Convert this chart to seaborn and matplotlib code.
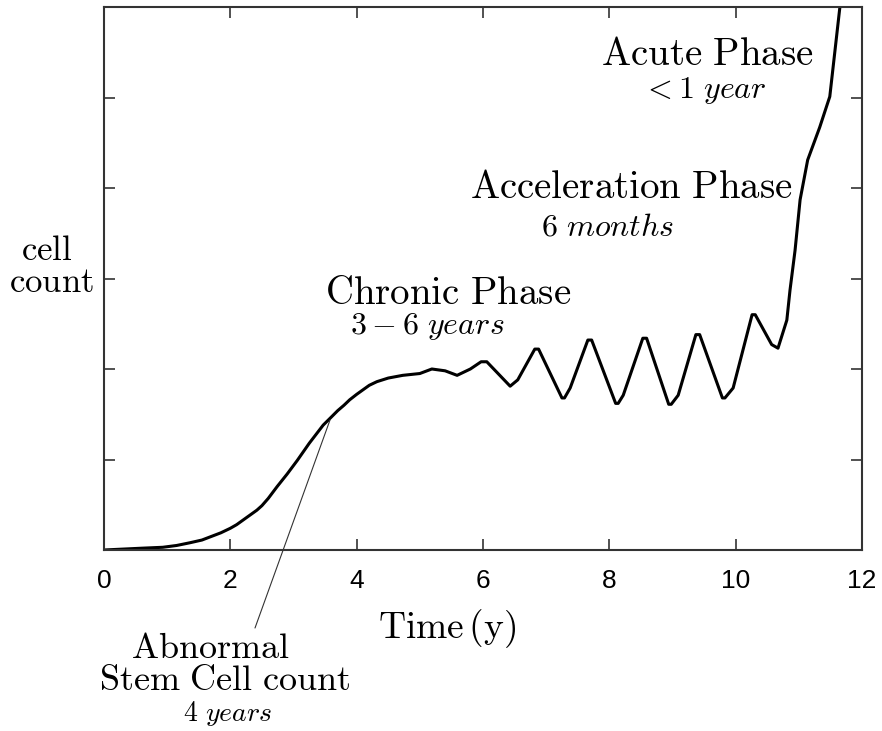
import matplotlib
matplotlib.use("Agg")
import matplotlib.pyplot as plt
import seaborn as sns
import pandas as pd

sns.set_theme(style="white")
plt.rcParams['font.family'] = ['Liberation Sans', 'DejaVu Sans']
plt.rcParams['mathtext.fontset'] = 'cm'

# Read values (time in years, cell count in arbitrary units)
time_y = [0.0, 0.3, 0.6, 0.93, 1.15, 1.36, 1.55, 1.7, 1.85, 2.0, 2.1, 2.2, 2.3, 2.42, 2.5,
          2.6, 2.74, 2.9, 3.06, 3.25, 3.47, 3.6, 3.7, 3.8, 3.89, 4.0, 4.1, 4.2, 4.32,
          4.5, 4.73, 5.0, 5.19, 5.4, 5.59, 5.8, 5.97, 6.06,
          6.43, 6.55, 6.82, 6.88, 7.25, 7.29, 7.38, 7.66, 7.72, 8.10, 8.14, 8.22,
          8.53, 8.59, 8.94, 8.98, 9.09, 9.37, 9.43, 9.79, 9.83, 9.96, 10.26, 10.31,
          10.57, 10.67, 10.81, 10.86, 10.94, 11.02, 11.14, 11.33, 11.49, 11.65]
cell_count = [0.0, 0.01, 0.02, 0.03, 0.05, 0.08, 0.11, 0.15, 0.19, 0.24, 0.28, 0.33, 0.38,
              0.44, 0.49, 0.57, 0.70, 0.84, 0.99, 1.18, 1.38, 1.47, 1.54, 1.60, 1.66,
              1.72, 1.77, 1.82, 1.86, 1.90, 1.93, 1.95, 2.0, 1.98, 1.93, 2.0, 2.08, 2.08,
              1.81, 1.88, 2.22, 2.22, 1.68, 1.68, 1.79, 2.32, 2.32, 1.62, 1.62, 1.71,
              2.34, 2.34, 1.61, 1.61, 1.71, 2.38, 2.38, 1.68, 1.68, 1.79, 2.60, 2.60,
              2.27, 2.23, 2.54, 2.87, 3.31, 3.87, 4.31, 4.67, 5.01, 6.0]
x_ticks = [0, 2, 4, 6, 8, 10, 12]
y_ticks = [1, 2, 3, 4, 5]

df = pd.DataFrame({"time": time_y, "count": cell_count})

fig = plt.figure(figsize=(8.82, 7.31), dpi=100)
ax = fig.add_axes([104/882, 1-550/731, 758/882, 543/731])
sns.lineplot(data=df, x="time", y="count", ax=ax, color="black", linewidth=2.2,
             sort=False)
ax.set_xlim(0, 12)
ax.set_ylim(0, 6)
ax.set_xticks(x_ticks)
ax.set_xticklabels([str(t) for t in x_ticks], fontsize=19)
ax.set_yticks(y_ticks)
ax.set_yticklabels([])
ax.tick_params(direction='in', length=8, width=1.2, top=True, right=True,
               bottom=True, left=True, colors='#333333', labelcolor='black', pad=14)
for s in ax.spines.values():
    s.set_color('#333333')
    s.set_linewidth(1.5)
ax.set_xlabel("")
ax.set_ylabel("")

def ftxt(px, py, s, size):
    fig.text(px/882, 1-py/731, s, fontsize=size, ha='center', va='center', color='black')

ftxt(707, 55, r"$\mathrm{Acute\ Phase}$", 28)
ftxt(704, 91, r"$<1\ \mathit{year}$", 23)
ftxt(631, 188, r"$\mathrm{Acceleration\ Phase}$", 28)
ftxt(608, 228, r"$6\ \mathit{months}$", 23)
ftxt(448, 294, r"$\mathrm{Chronic\ Phase}$", 28)
ftxt(427, 326, r"$3-6\ \mathit{years}$", 23)
ftxt(47, 250, r"$\mathrm{cell}$", 25)
ftxt(51, 283, r"$\mathrm{count}$", 25)
ftxt(447, 629, r"$\mathrm{Time\,(y)}$", 27)
ftxt(210, 648, r"$\mathrm{Abnormal}$", 26)
ftxt(225, 680, r"$\mathrm{Stem\ Cell\ count}$", 26)
ftxt(228, 714, r"$4\ \mathit{years}$", 20)

fig.add_artist(plt.Line2D([330/882, 255/882], [1-420/731, 1-628/731],
                          color='#333333', linewidth=0.8))

fig.savefig("out.png", dpi=100)
